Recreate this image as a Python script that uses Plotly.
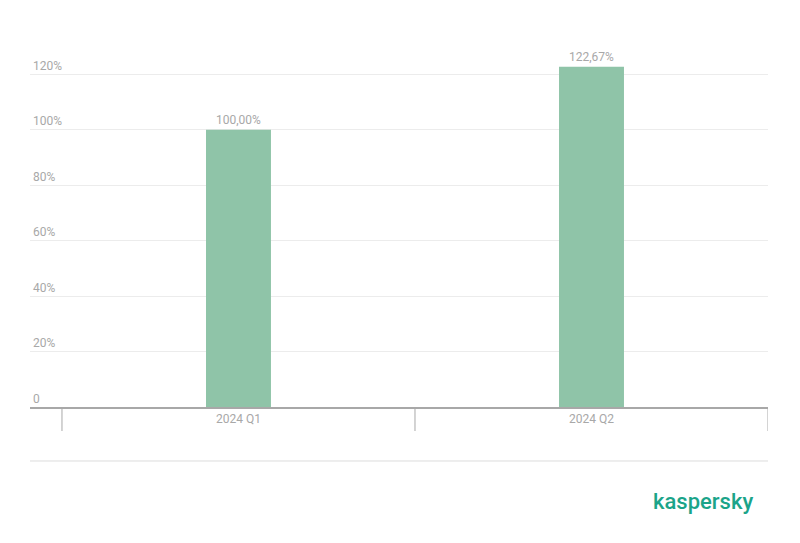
import plotly.graph_objects as go

categories = ["2024 Q1", "2024 Q2"]
positions = [0, 1]
values = [100.00, 122.67]
tick_vals = [0, 20, 40, 60, 80, 100, 120]
tick_text = ["0", "20%", "40%", "60%", "80%", "100%", "120%"]
boundary_ticks = [-0.5, 0.5, 1.5]

gray = "#a8a8a8"
xrange_ = [-0.5906, 1.5]
yrange_ = [0, 128]

W, H = 800, 543
M = dict(l=22, r=40, t=44, b=144)
plot_h = H - M["t"] - M["b"]
tick_px = 24
tick_paper = tick_px / plot_h

fig = go.Figure()
fig.add_trace(go.Bar(
    x=positions, y=values,
    width=0.184,
    marker=dict(color="#8fc4a8", line=dict(width=0)),
    texttemplate="%{y:.2f}%",
    textposition="outside",
    textfont=dict(family="Roboto", size=12, color=gray),
    cliponaxis=False,
))

# separator ticks between categories (x in data units, y below the axis in paper units)
shapes = [dict(type="line", xref="x", yref="paper",
               x0=b, x1=b, y0=0, y1=-tick_paper,
               line=dict(color=gray, width=1))
          for b in boundary_ticks]
shapes.append(dict(type="line", xref="paper", yref="paper",
                   x0=0, x1=1, y0=-0.1521, y1=-0.1521,
                   line=dict(color="#dcdcdc", width=1)))

fig.update_layout(
    width=W, height=H,
    margin=dict(**M, autoexpand=False),
    paper_bgcolor="white", plot_bgcolor="white",
    separators=", ",
    showlegend=False,
    font=dict(family="Roboto", size=12, color=gray),
    xaxis=dict(
        type="linear", range=xrange_,
        tickmode="array", tickvals=positions, ticktext=categories,
        ticks="",
        showgrid=False, zeroline=False,
        showline=True, linecolor=gray, linewidth=2,
        tickfont=dict(family="Roboto", size=12, color=gray),
        automargin=False, fixedrange=True,
    ),
    yaxis=dict(
        range=yrange_,
        tickmode="array", tickvals=tick_vals, ticktext=tick_text,
        ticklabelposition="inside top",
        showgrid=True, gridcolor="#ececec", gridwidth=1,
        zeroline=False, showline=False, ticks="",
        tickfont=dict(family="Roboto", size=12, color=gray),
        automargin=False, fixedrange=True,
    ),
    shapes=shapes,
    annotations=[dict(text="kaspersky", xref="paper", yref="paper",
                      x=0.912, y=-0.2648, xanchor="center", yanchor="middle",
                      showarrow=False,
                      font=dict(family="Roboto", size=22, color="#1ba489", weight=500))],
)

fig.write_html("out.html")
